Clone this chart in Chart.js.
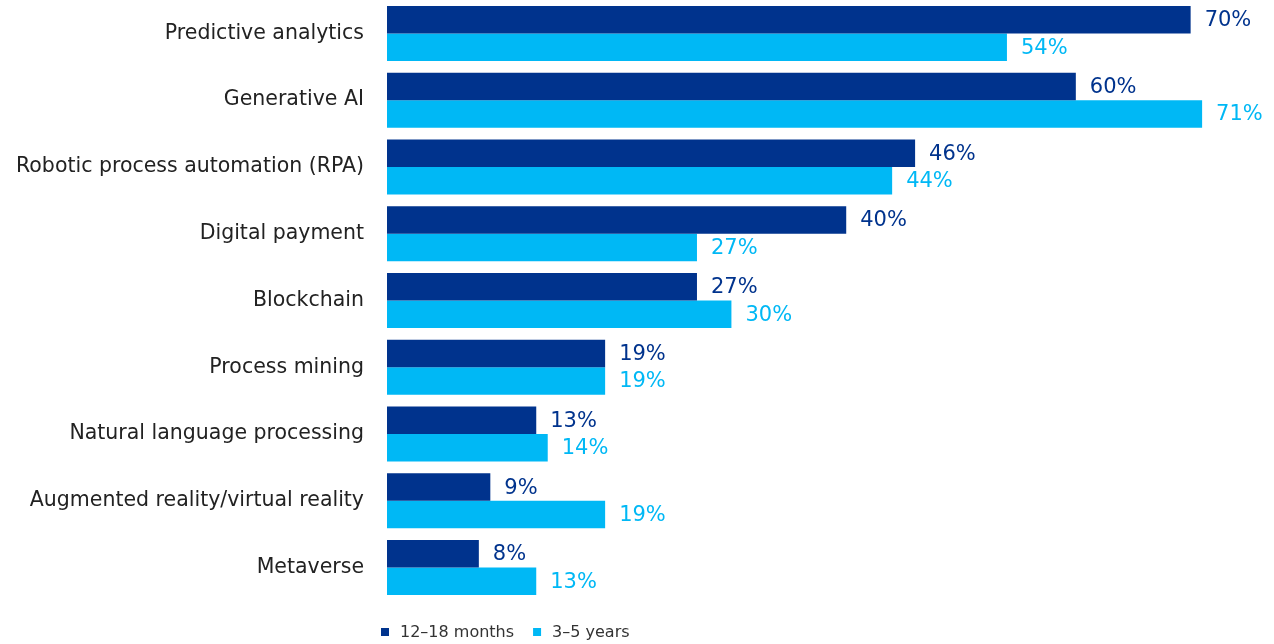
<!DOCTYPE html>
<html lang="en">
<head>
    <meta charset="UTF-8">
    <title>Technology adoption</title>
    <script src="https://cdn.jsdelivr.net/npm/chart.js"></script>
    <style>
        html, body { margin: 0; padding: 0; background: #fff; }
        #wrap { width: 1274px; height: 644px; position: relative; }
    </style>
</head>
<body>
    <div id="wrap"><canvas id="techChart"></canvas></div>

    <script>
        const categories = [
            'Predictive analytics',
            'Generative AI',
            'Robotic process automation (RPA)',
            'Digital payment',
            'Blockchain',
            'Process mining',
            'Natural language processing',
            'Augmented reality/virtual reality',
            'Metaverse'
        ];
        const shortTerm = [70, 60, 46, 40, 27, 19, 13, 9, 8];   // 12–18 months
        const longTerm = [54, 71, 44, 27, 30, 19, 14, 19, 13];  // 3–5 years
        const seriesNames = ['12–18 months', '3–5 years'];

        const DARK = '#00338D';
        const LIGHT = '#00B8F5';
        const FONT = '"DejaVu Sans", sans-serif';

        // percentage labels just past the end of every bar
        const valueLabels = {
            id: 'valueLabels',
            afterDatasetsDraw(chart) {
                const ctx = chart.ctx;
                ctx.save();
                ctx.font = '21px ' + FONT;
                ctx.textBaseline = 'middle';
                ctx.textAlign = 'left';
                chart.data.datasets.forEach((ds, i) => {
                    chart.getDatasetMeta(i).data.forEach((bar, j) => {
                        ctx.fillStyle = ds.backgroundColor;
                        ctx.fillText(ds.data[j] + '%', bar.x + 14, bar.y + 1);
                    });
                });
                ctx.restore();
            }
        };

        // small square legend under the bars
        const bottomLegend = {
            id: 'bottomLegend',
            afterDraw(chart) {
                const ctx = chart.ctx;
                const y = 632;
                let x = 381;
                ctx.save();
                ctx.font = '16px ' + FONT;
                ctx.textBaseline = 'middle';
                chart.data.datasets.forEach(ds => {
                    ctx.fillStyle = ds.backgroundColor;
                    ctx.fillRect(x, y - 4, 8, 8);
                    ctx.fillStyle = '#333';
                    ctx.fillText(ds.label, x + 19, y + 1);
                    x += 19 + ctx.measureText(ds.label).width + 19;
                });
                ctx.restore();
            }
        };

        const ctx = document.getElementById('techChart').getContext('2d');
        const techChart = new Chart(ctx, {
            type: 'bar',
            data: {
                labels: categories,
                datasets: [
                    {
                        label: seriesNames[0],
                        data: shortTerm,
                        backgroundColor: DARK,
                        categoryPercentage: 0.824,
                        barPercentage: 1.0
                    },
                    {
                        label: seriesNames[1],
                        data: longTerm,
                        backgroundColor: LIGHT,
                        categoryPercentage: 0.824,
                        barPercentage: 1.0
                    }
                ]
            },
            options: {
                indexAxis: 'y',
                responsive: true,
                maintainAspectRatio: false,
                animation: false,
                layout: { padding: { top: 0, right: 3, bottom: 43, left: 0 } },
                plugins: {
                    legend: { display: false },
                    tooltip: { enabled: false }
                },
                scales: {
                    x: {
                        display: false,
                        min: 0,
                        max: 77
                    },
                    y: {
                        afterFit(scale) {
                            scale.width = 387;
                            scale.paddingTop = 0;
                            scale.paddingBottom = 0;
                        },
                        border: { display: false },
                        grid: { display: false, drawTicks: false },
                        ticks: {
                            padding: 23,
                            color: '#222',
                            font: { family: FONT, size: 20.5 }
                        }
                    }
                }
            },
            plugins: [valueLabels, bottomLegend]
        });
    </script>
</body>
</html>
